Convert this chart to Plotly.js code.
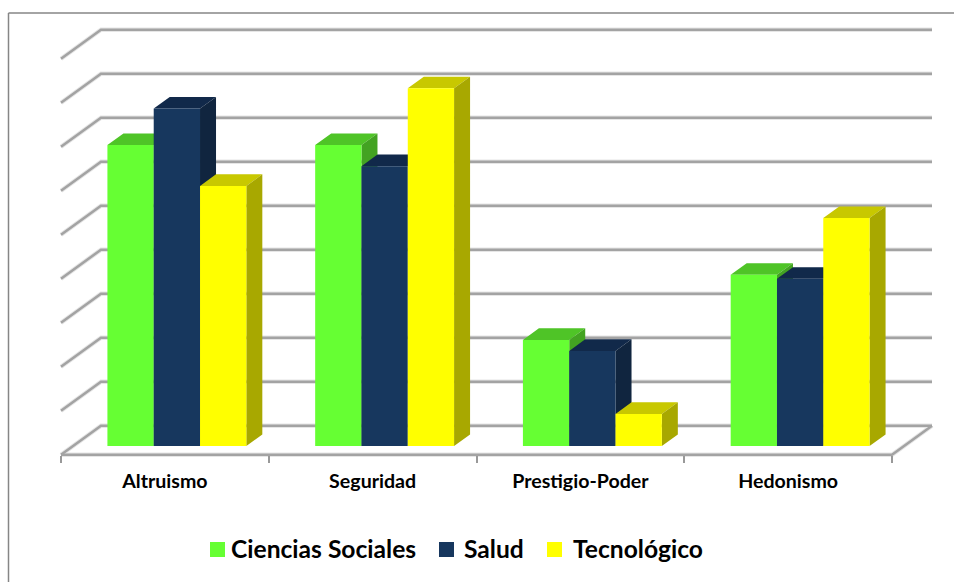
<!DOCTYPE html>
<html><head><meta charset="utf-8">
<script src="https://cdn.plot.ly/plotly-3.0.1.min.js"></script>
<style>html,body{margin:0;padding:0;background:#fff}#c{width:954px;height:582px}</style>
</head><body><div id="c"></div>
<script>
const categories = ["Altruismo", "Seguridad", "Prestigio-Poder", "Hedonismo"];
const cienciasSociales = [68.4, 68.4, 24.1, 38.9];
const salud = [76.7, 63.6, 21.6, 38.0];
const tecnologico = [59.1, 81.3, 7.3, 51.8];
const gridValues = [0, 10, 20, 30, 40, 50, 60, 70, 80, 90];
const seriesNames = ["Ciencias Sociales", "Salud", "Tecnológico"];
const frontColors = ["#66FF33", "#17375E", "#FFFF00"];
const topColors = ["#4FC427", "#11294A", "#C8C800"];
const sideColors = ["#43A322", "#10253F", "#A8A800"];

const W = 954, H = 582, pxPerCat = 207.75, pxPerVal = 4.4, x0px = 61, y0px = 446;
const DX = 40 / pxPerCat, DY = 29 / pxPerVal, dBar0 = 0.3, dBar1 = 0.7, barW = 46.3 / pxPerCat;
const proj = (x, v, d) => [x + d * DX, v + (d - dBar0) * DY];

const traces = [];
// walls and floor
const gx = [], gy = [];
gridValues.forEach(g => {
  [[0, g, 0], [0, g, 1], [categories.length, g, 1]].forEach(p => { const q = proj(...p); gx.push(q[0]); gy.push(q[1]); });
  gx.push(null); gy.push(null);
});
[[0, 0, 0], [categories.length, 0, 0], [categories.length, 0, 1]].forEach(p => { const q = proj(...p); gx.push(q[0]); gy.push(q[1]); });
traces.push({type: "scatter", mode: "lines", x: gx, y: gy, line: {color: "#E6E6E6", width: 4.5}, hoverinfo: "skip", zorder: 0, showlegend: false});
traces.push({type: "scatter", mode: "lines", x: gx, y: gy, line: {color: "#A3A3A3", width: 2.5}, hoverinfo: "skip", zorder: 0, showlegend: false});

[cienciasSociales, salud, tecnologico].forEach((vals, s) => {
  const tx = [], ty = [], sx = [], sy = [], bx = [];
  vals.forEach((v, i) => {
    const cx = i + 0.5 + (s - 1) * barW;
    bx.push(cx + dBar0 * DX);
    const xl = cx - barW / 2, xr = cx + barW / 2;
    [[xl, v, dBar0], [xr, v, dBar0], [xr, v, dBar1], [xl, v, dBar1]].forEach(p => { const q = proj(...p); tx.push(q[0]); ty.push(q[1]); });
    tx.push(null); ty.push(null);
    [[xr, 0, dBar0], [xr, 0, dBar1], [xr, v, dBar1], [xr, v, dBar0]].forEach(p => { const q = proj(...p); sx.push(q[0]); sy.push(q[1]); });
    sx.push(null); sy.push(null);
  });
  traces.push({type: "scatter", mode: "lines", x: tx, y: ty, fill: "toself", fillcolor: topColors[s], line: {width: 0}, hoverinfo: "skip", zorder: 2 * s + 1, showlegend: false});
  traces.push({type: "scatter", mode: "lines", x: sx, y: sy, fill: "toself", fillcolor: sideColors[s], line: {width: 0}, hoverinfo: "skip", zorder: 2 * s + 1, showlegend: false});
  traces.push({type: "bar", name: seriesNames[s], x: bx, y: vals, width: barW, marker: {color: frontColors[s], line: {width: 0}}, zorder: 2 * s + 2, showlegend: false, customdata: categories, hovertemplate: "%{customdata}: %{y}<extra>" + seriesNames[s] + "</extra>"});
});

const legendSwatchX = [210, 439, 547], legendTextX = [228.5, 462, 570.5];
const shapes = [
  {type: "line", xref: "paper", yref: "paper", x0: 8.5 / W, x1: 8.5 / W, y0: 0, y1: 1 - 13 / H, line: {color: "#868686", width: 1.5}},
  {type: "line", xref: "paper", yref: "paper", x0: 8.5 / W, x1: 1, y0: 1 - 13 / H, y1: 1 - 13 / H, line: {color: "#868686", width: 1.5}}
];
const annotations = [];
seriesNames.forEach((n, s) => {
  shapes.push({type: "rect", xref: "paper", yref: "paper", x0: legendSwatchX[s] / W, x1: (legendSwatchX[s] + 15) / W, y0: 1 - 557 / H, y1: 1 - 542 / H, fillcolor: frontColors[s], line: {width: 0}});
  annotations.push({xref: "paper", yref: "paper", x: legendTextX[s] / W, y: 1 - 548 / H, xanchor: "left", yanchor: "middle", showarrow: false, text: "<b>" + n + "</b>", font: {family: "Lato, Carlito, sans-serif", size: 24.6, color: "#000"}});
});

const layout = {
  width: W, height: H, margin: {l: 0, r: 0, t: 0, b: 0}, paper_bgcolor: "#fff", plot_bgcolor: "#fff",
  barmode: "overlay", showlegend: false, shapes, annotations,
  xaxis: {
    range: [-x0px / pxPerCat, (W - x0px) / pxPerCat], anchor: "free", position: (H - 455) / H, showgrid: false, zeroline: false, showline: false, fixedrange: true,
    tickmode: "array", tickvals: categories.map((c, i) => i + 0.5), ticktext: categories, ticks: "", ticklabelstandoff: 12,
    tickfont: {family: "Lato, Carlito, sans-serif", size: 19.6, color: "#000", weight: 700},
    minor: {tickmode: "array", tickvals: categories.map((c, i) => i).concat(categories.length), ticks: "outside", ticklen: 7, tickwidth: 1.5, tickcolor: "#999", showgrid: false}
  },
  yaxis: {range: [(y0px - H) / pxPerVal, y0px / pxPerVal], visible: false, fixedrange: true}
};
Plotly.newPlot("c", traces, layout, {displayModeBar: false, staticPlot: false});
</script></body></html>
